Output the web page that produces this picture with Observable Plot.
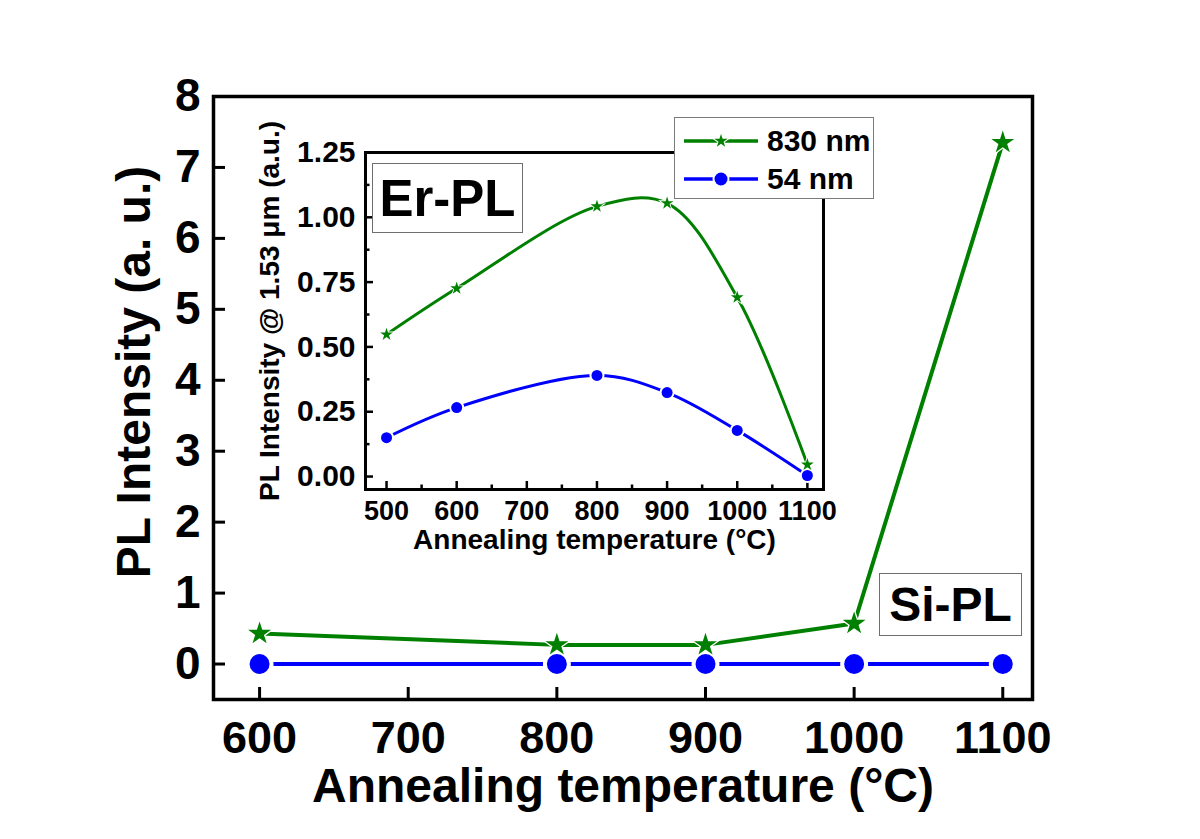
<!DOCTYPE html>
<html>
<head>
<meta charset="utf-8">
<script src="https://cdn.jsdelivr.net/npm/d3@7"></script>
<script src="https://cdn.jsdelivr.net/npm/@observablehq/plot@0.6"></script>
<style>
  body { margin: 0; background: white; }
  #wrap { position: relative; width: 1200px; height: 839px; background: white; font-family: "Liberation Sans", Arial, sans-serif; font-weight: bold; }
  #wrap svg.plotsvg { position: absolute; left: 0; top: 0; }
  .tag { position: absolute; border: 1.5px solid #6e6e6e; background: white; display: flex; align-items: center; justify-content: center; color: black; box-sizing: border-box; }
  #legend { position: absolute; border: 1.5px solid #7a7a7a; background: white; box-sizing: border-box; }
  .legrow { display: flex; align-items: center; height: 38px; font-size: 30px; }
  .legrow svg { margin-left: 9px; margin-right: 9px; }
</style>
</head>
<body>
<div id="wrap"></div>
<script>
// ---- data ----
const mainTemps = [600, 800, 900, 1000, 1100];
const main830 = [0.43, 0.27, 0.27, 0.57, 7.35];
const main54 = [0, 0, 0, 0, 0];

const insetTemps = [500, 600, 800, 900, 1000, 1100];
const inset830 = [0.548, 0.726, 1.042, 1.054, 0.691, 0.046];
const inset54 = [0.15, 0.266, 0.39, 0.324, 0.178, 0.004];

const seriesNames = ["830 nm", "54 nm"];
const seriesColors = ["#008000", "#0000ff"];

const mainXTicks = [600, 700, 800, 900, 1000, 1100];
const mainYTicks = [0, 1, 2, 3, 4, 5, 6, 7, 8];
const insetXTicks = [500, 600, 700, 800, 900, 1000, 1100];
const insetXMinor = [550, 650, 750, 850, 950, 1050];
const insetYTicks = [0, 0.25, 0.5, 0.75, 1.0, 1.25];
const insetYMinor = [0.125, 0.375, 0.625, 0.875, 1.125];

const mainXLabel = "Annealing temperature (°C)";
const mainYLabel = "PL Intensity (a. u.)";
const insetXLabel = "Annealing temperature (°C)";
const insetYLabel = "PL Intensity @ 1.53 μm (a.u.)";

// ---- tables ----
const mainData = [
  ...mainTemps.map((t, i) => ({t, v: main54[i], s: seriesNames[1]})),
  ...mainTemps.map((t, i) => ({t, v: main830[i], s: seriesNames[0]}))
];
const insetData = [
  ...insetTemps.map((t, i) => ({t, v: inset54[i], s: seriesNames[1]})),
  ...insetTemps.map((t, i) => ({t, v: inset830[i], s: seriesNames[0]}))
];
const color = {domain: seriesNames, range: seriesColors};
const font = "'Liberation Sans', Arial, sans-serif";
const plain = d => String(d);

const W = 1200, H = 839;
// main
const mL = 213, mR = 168, mT = 96, mB = 140;
const mFH = H - mT - mB, mFW = W - mL - mR;

function markerMarks(data, sizes) {
  const blue = data.filter(d => d.s === seriesNames[1]);
  const green = data.filter(d => d.s === seriesNames[0]);
  return [
    Plot.dot(blue, {x: "t", y: "v", fill: "white", r: sizes.circleBack}),
    Plot.dot(green, {x: "t", y: "v", fill: "white", symbol: "star", r: sizes.starBack}),
    Plot.dot(blue, {x: "t", y: "v", fill: "s", r: sizes.circle}),
    Plot.dot(green, {x: "t", y: "v", fill: "s", symbol: "star", r: sizes.star})
  ];
}

const main = Plot.plot({
  width: W, height: H,
  marginLeft: mL, marginRight: mR, marginTop: mT, marginBottom: mB,
  x: {domain: [569, 1120]},
  y: {domain: [-0.5, 8]},
  color,
  style: {fontFamily: font, fontWeight: "bold", background: "transparent", color: "black"},
  marks: [
    Plot.tickX(mainXTicks, {x: d => d, insetTop: mFH - 12, strokeWidth: 3}),
    Plot.tickY(mainYTicks, {y: d => d, insetRight: mFW - 12, strokeWidth: 3}),
    Plot.axisX(mainXTicks, {anchor: "bottom", tickSize: 0, tickPadding: 22, fontSize: 45, label: null, tickFormat: plain}),
    Plot.axisY(mainYTicks, {anchor: "left", tickSize: 0, tickPadding: 13, fontSize: 46, label: null, tickFormat: plain}),
    Plot.text([mainXLabel], {text: d => d, frameAnchor: "bottom", dy: 87, fontSize: 48, lineAnchor: "middle", textAnchor: "middle"}),
    Plot.text([mainYLabel], {text: d => d, frameAnchor: "left", rotate: -90, dx: -79, dy: -26, fontSize: 48, lineAnchor: "middle", textAnchor: "middle"}),
    Plot.line(mainData, {x: "t", y: "v", z: "s", stroke: "s", strokeWidth: 4}),
    ...markerMarks(mainData, {circle: 10, circleBack: 14, star: 7.2, starBack: 9.8}),
    Plot.frame({stroke: "black", strokeWidth: 3.5})
  ]
});

// inset
const iL = 365, iR = 377, iT = 152, iB = 350;
const iFH = H - iT - iB, iFW = W - iL - iR;
const inset = Plot.plot({
  width: W, height: H,
  marginLeft: iL, marginRight: iR, marginTop: iT, marginBottom: iB,
  x: {domain: [470, 1123]},
  y: {domain: [-0.05, 1.25]},
  color,
  style: {fontFamily: font, fontWeight: "bold", background: "transparent", color: "black"},
  marks: [
    Plot.frame({fill: "white", stroke: "none"}),
    Plot.tickX(insetXTicks, {x: d => d, insetTop: iFH - 8, strokeWidth: 2.5}),
    Plot.tickX(insetXMinor, {x: d => d, insetTop: iFH - 4.5, strokeWidth: 2.5}),
    Plot.tickY(insetYTicks, {y: d => d, insetRight: iFW - 8, strokeWidth: 2.5}),
    Plot.tickY(insetYMinor, {y: d => d, insetRight: iFW - 4.5, strokeWidth: 2.5}),
    Plot.axisX(insetXTicks, {anchor: "bottom", tickSize: 0, tickPadding: 11, fontSize: 27, label: null, tickFormat: plain}),
    Plot.axisY(insetYTicks, {anchor: "left", tickSize: 0, tickPadding: 10, fontSize: 30, label: null, tickFormat: d3.format(".2f")}),
    Plot.text([insetXLabel], {text: d => d, frameAnchor: "bottom", dy: 51, fontSize: 28, lineAnchor: "middle", textAnchor: "middle"}),
    Plot.text([insetYLabel], {text: d => d, frameAnchor: "left", rotate: -90, dx: -95, dy: -10, fontSize: 28, lineAnchor: "middle", textAnchor: "middle"}),
    Plot.line(insetData, {x: "t", y: "v", z: "s", stroke: "s", strokeWidth: 3, curve: "catmull-rom"}),
    ...markerMarks(insetData, {circle: 5.5, circleBack: 7.5, star: 4.0, starBack: 5.7}),
    Plot.frame({stroke: "black", strokeWidth: 3})
  ]
});

const wrap = document.getElementById("wrap");
main.classList.add("plotsvg");
inset.classList.add("plotsvg");
wrap.appendChild(main);
wrap.appendChild(inset);

// annotation tags
function tag(text, left, top, w, h, size) {
  const d = document.createElement("div");
  d.className = "tag";
  d.style.left = left + "px"; d.style.top = top + "px";
  d.style.width = w + "px"; d.style.height = h + "px";
  d.style.fontSize = size + "px";
  d.textContent = text;
  wrap.appendChild(d);
}
tag("Er-PL", 372, 163, 151, 70, 51);
tag("Si-PL", 879, 573, 143, 63, 48);

// legend
const leg = document.createElement("div");
leg.id = "legend";
leg.style.left = "674px"; leg.style.top = "117px";
leg.style.width = "200px"; leg.style.height = "82px";
leg.style.paddingTop = "4px";
const symbols = [d3.symbolStar, d3.symbolCircle];
const symR = [[4.2, 6.0], [6.5, 8.5]];
seriesNames.forEach((name, i) => {
  const row = document.createElement("div");
  row.className = "legrow";
  const ns = "http://www.w3.org/2000/svg";
  const s = document.createElementNS(ns, "svg");
  s.setAttribute("width", 74); s.setAttribute("height", 30);
  const ln = document.createElementNS(ns, "line");
  ln.setAttribute("x1", 0); ln.setAttribute("x2", 74);
  ln.setAttribute("y1", 15); ln.setAttribute("y2", 15);
  ln.setAttribute("stroke", seriesColors[i]); ln.setAttribute("stroke-width", 3.5);
  s.appendChild(ln);
  [["white", symR[i][1]], [seriesColors[i], symR[i][0]]].forEach(([fill, r]) => {
    const p = document.createElementNS(ns, "path");
    p.setAttribute("d", d3.symbol(symbols[i], Math.PI * r * r)());
    p.setAttribute("transform", "translate(37,15)");
    p.setAttribute("fill", fill);
    s.appendChild(p);
  });
  row.appendChild(s);
  const t = document.createElement("span");
  t.textContent = name;
  row.appendChild(t);
  leg.appendChild(row);
});
wrap.appendChild(leg);
</script>
</body>
</html>
